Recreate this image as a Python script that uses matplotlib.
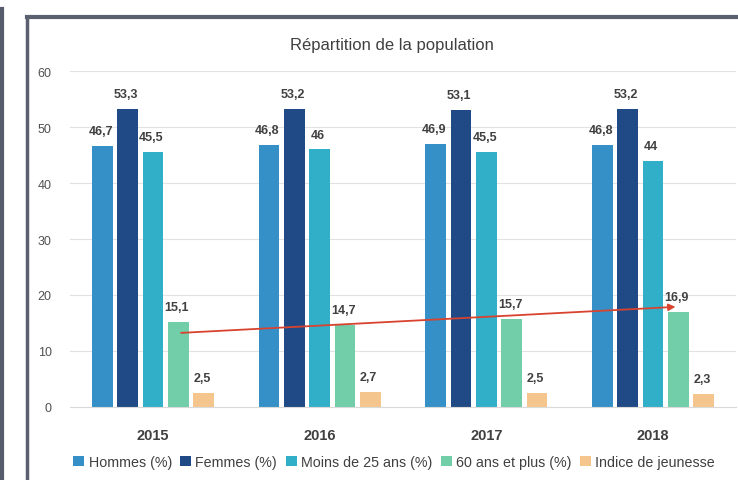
import matplotlib
matplotlib.use('Agg')
import matplotlib.pyplot as plt
from matplotlib.lines import Line2D
import numpy as np

plt.rcParams['font.family'] = ['Liberation Sans', 'DejaVu Sans']

years = ['2015', '2016', '2017', '2018']
series_names = ['Hommes (%)', 'Femmes (%)', 'Moins de 25 ans (%)', '60 ans et plus (%)', 'Indice de jeunesse']
hommes = [46.7, 46.8, 46.9, 46.8]
femmes = [53.3, 53.2, 53.1, 53.2]
moins25 = [45.5, 46, 45.5, 44]
plus60 = [15.1, 14.7, 15.7, 16.9]
indice = [2.5, 2.7, 2.5, 2.3]
trend = [13.2, 17.9]   # red arrow, start and end heights

colors = ['#3490C6', '#1F4A86', '#31AFC9', '#72CDA9', '#F4C68E']

fig = plt.figure(figsize=(7.38, 4.81), dpi=100)
fig.patch.set_facecolor('white')

# photo frame around the chart
fig.add_artist(Line2D([0.003, 0.003], [0.0, 0.98], color='#565c6c', lw=3))
fig.add_artist(Line2D([0.037, 1.0], [0.963, 0.963], color='#5a6070', lw=3))
fig.add_artist(Line2D([0.037, 0.037], [0.0, 0.963], color='#5a6070', lw=2.5))

ax = fig.add_axes([0.0944, 0.152, 0.9033, 0.698])
x = np.arange(len(years))
slot = 0.152
width = 0.125
all_series = [hommes, femmes, moins25, plus60, indice]
for i, vals in enumerate(all_series):
    pos = x + (i - 2) * slot
    ax.bar(pos, vals, width, color=colors[i], label=series_names[i], zorder=2)
    for xp, v in zip(pos, vals):
        txt = ('%g' % v).replace('.', ',')
        ax.text(xp - 0.01, v + 1.6, txt, ha='center', va='bottom', fontsize=9,
                fontweight='bold', color='#404040', zorder=4)

# trend arrow on the 60 ans et plus bars
ax.annotate('', xy=(x[-1] + slot, trend[1]), xytext=(x[0] + slot, trend[0]),
            arrowprops=dict(arrowstyle='-|>', color='#D8432F', lw=1.3, mutation_scale=10),
            zorder=5)

ax.set_xlim(-0.5, len(years) - 0.5)
ax.set_ylim(0, 60)
ax.set_yticks(range(0, 61, 10))
ax.yaxis.grid(True, color='#e2e2e2', lw=0.8, zorder=0)
ax.set_axisbelow(True)
for s in ['top', 'right', 'left']:
    ax.spines[s].set_visible(False)
ax.spines['bottom'].set_color('#d9d9d9')
ax.tick_params(axis='y', length=0, pad=13, labelsize=9, labelcolor='#505050')
ax.set_xticks(x)
ax.set_xticklabels(years, fontweight='bold', fontsize=10.5, color='#404040')
ax.tick_params(axis='x', length=0, pad=15)

fig.text(0.531, 0.905, 'Répartition de la population', ha='center', va='center',
         fontsize=12, color='#404040')

fig.legend(loc='center', bbox_to_anchor=(0.534, 0.037), ncol=5, frameon=False,
           fontsize=10.3, handlelength=0.75, handleheight=0.75, handletextpad=0.3,
           columnspacing=0.6, labelcolor='#404040')

fig.savefig('out.png', dpi=100)
